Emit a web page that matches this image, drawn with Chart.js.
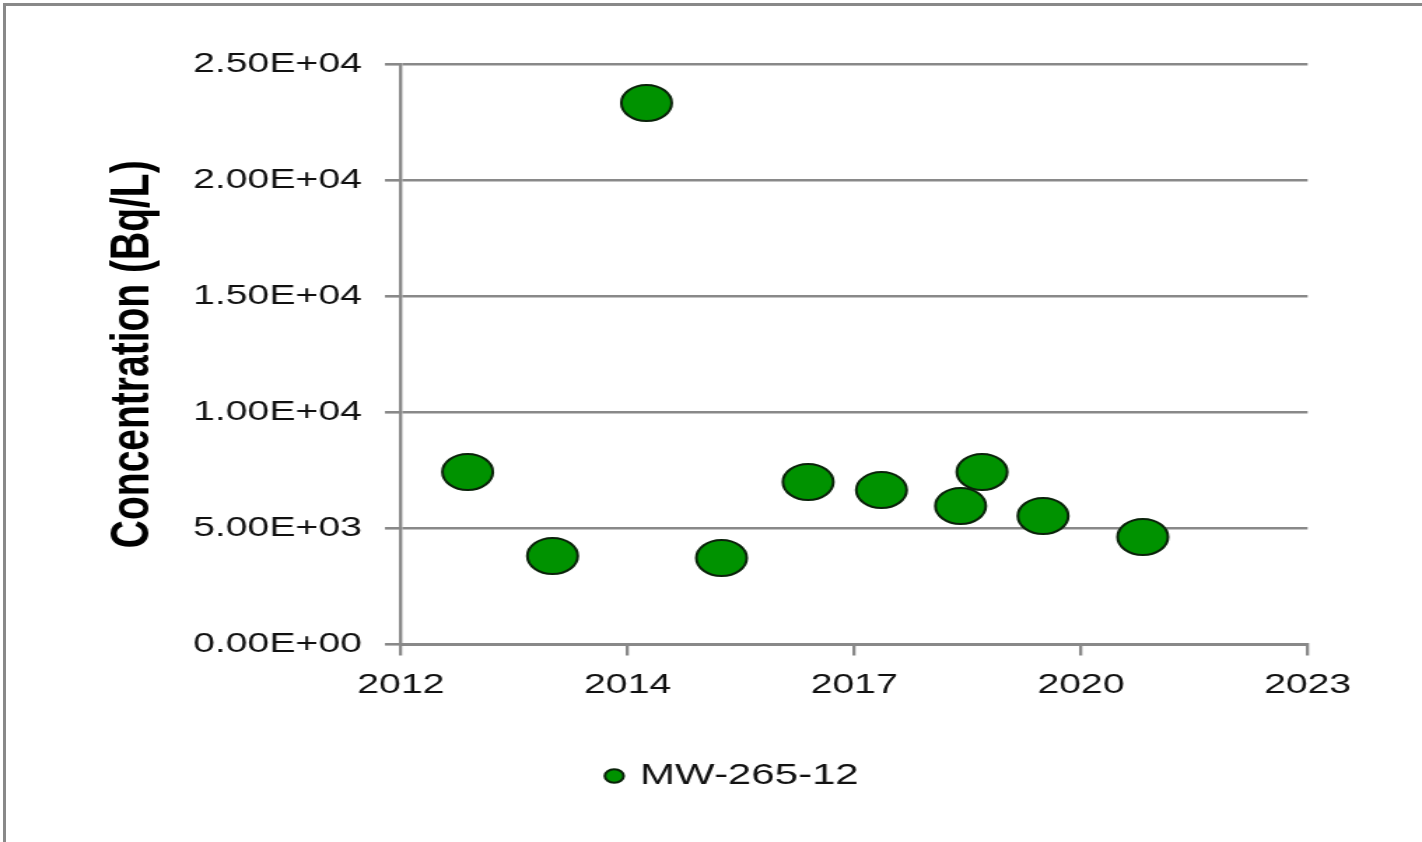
<!DOCTYPE html>
<html>
<head>
<meta charset="utf-8">
<script src="https://cdn.jsdelivr.net/npm/chart.js@4.4.1/dist/chart.umd.min.js"></script>
<style>
  html, body { margin: 0; padding: 0; background: #ffffff; }
  #wrap { position: absolute; left: 0; top: 0; width: 1422px; height: 842px; overflow: hidden; background: #fff; }
  #frame { position: absolute; left: 3px; top: 3px; right: -10px; bottom: -10px;
           border-left: 3px solid #898989; border-top: 3px solid #898989; pointer-events: none; }
</style>
</head>
<body>
<div id="wrap">
  <canvas id="c" width="1016" height="842" style="display:block;width:1422px;height:842px;"></canvas>
  <div id="frame"></div>
</div>
<script>
// ---- data ----
const seriesName = 'MW-265-12';
const sampleYears = [2012.81, 2013.84, 2014.98, 2015.89, 2016.94, 2017.83, 2018.79, 2019.05, 2019.79, 2021.00];
const concentrations = [7430, 3810, 23320, 3725, 7000, 6650, 5965, 7430, 5535, 4630];
const xTickValues = [2012, 2014.75, 2017.5, 2020.25, 2023];
const xTickLabels = ['2012', '2014', '2017', '2020', '2023'];
const yTickValues = [0, 5000, 10000, 15000, 20000, 25000];
const yTickLabels = ['0.00E+00', '5.00E+03', '1.00E+04', '1.50E+04', '2.00E+04', '2.50E+04'];
const yAxisTitle = 'Concentration (Bq/L)';

const points = sampleYears.map((x, i) => ({ x: x, y: concentrations[i] }));
const AXIS = '#898989';

const cv = document.getElementById('c');
new Chart(cv, {
  type: 'scatter',
  data: {
    datasets: [{
      label: seriesName,
      data: points,
      pointRadius: 18,
      pointHoverRadius: 18,
      pointBorderWidth: 2,
      backgroundColor: '#009200',
      borderColor: '#0a220a',
      pointStyle: 'circle'
    }]
  },
  options: {
    responsive: false,
    devicePixelRatio: 1,
    animation: false,
    layout: { padding: { left: 60, right: 27.1, top: 64, bottom: 41 } },
    plugins: {
      tooltip: { enabled: false },
      legend: {
        position: 'bottom',
        labels: {
          usePointStyle: true,
          boxWidth: 7,
          boxHeight: 9.5,
          padding: 10,
          color: '#111',
          font: { family: '"Liberation Sans", Arial, sans-serif', size: 30 }
        }
      }
    },
    scales: {
      x: {
        type: 'linear',
        min: 2012,
        max: 2023,
        afterBuildTicks: (s) => { s.ticks = xTickValues.map(v => ({ value: v })); },
        afterFit: (s) => { s.height = 106.5; },
        ticks: {
          autoSkip: false,
          maxRotation: 0,
          padding: 15.5,
          color: '#111',
          font: { family: '"Liberation Sans", Arial, sans-serif', size: 28, lineHeight: 1 },
          callback: (v, i) => xTickLabels[i]
        },
        grid: { drawOnChartArea: false, drawTicks: true, tickLength: 11, color: AXIS, lineWidth: 2.3 },
        border: { display: true, color: AXIS, width: 3 }
      },
      y: {
        type: 'linear',
        min: 0,
        max: 25000,
        afterBuildTicks: (s) => { s.ticks = yTickValues.map(v => ({ value: v })); },
        afterFit: (s) => { s.width = 226.4; },
        ticks: {
          padding: 16.4,
          color: '#111',
          font: { family: '"Liberation Sans", Arial, sans-serif', size: 28, lineHeight: 1 },
          callback: (v, i) => yTickLabels[i]
        },
        grid: { color: AXIS, lineWidth: 2.6, tickLength: 11.4, drawTicks: true },
        border: { display: true, color: AXIS, width: 2.4 },
        title: {
          display: true,
          text: yAxisTitle,
          color: '#000',
          padding: { top: 11.6, bottom: 0 },
          font: { family: '"Liberation Sans", Arial, sans-serif', size: 39, weight: 'bold', lineHeight: 1.2 }
        }
      },
      yR: {
        type: 'linear',
        position: 'right',
        display: true,
        afterFit: (s) => { s.width = 54.6; },
        ticks: { display: false },
        grid: { display: false, drawTicks: false },
        border: { display: false }
      }
    }
  }
});
// keep the horizontal stretch of the reference
cv.style.width = '1422px';
cv.style.height = '842px';
</script>
</body>
</html>
